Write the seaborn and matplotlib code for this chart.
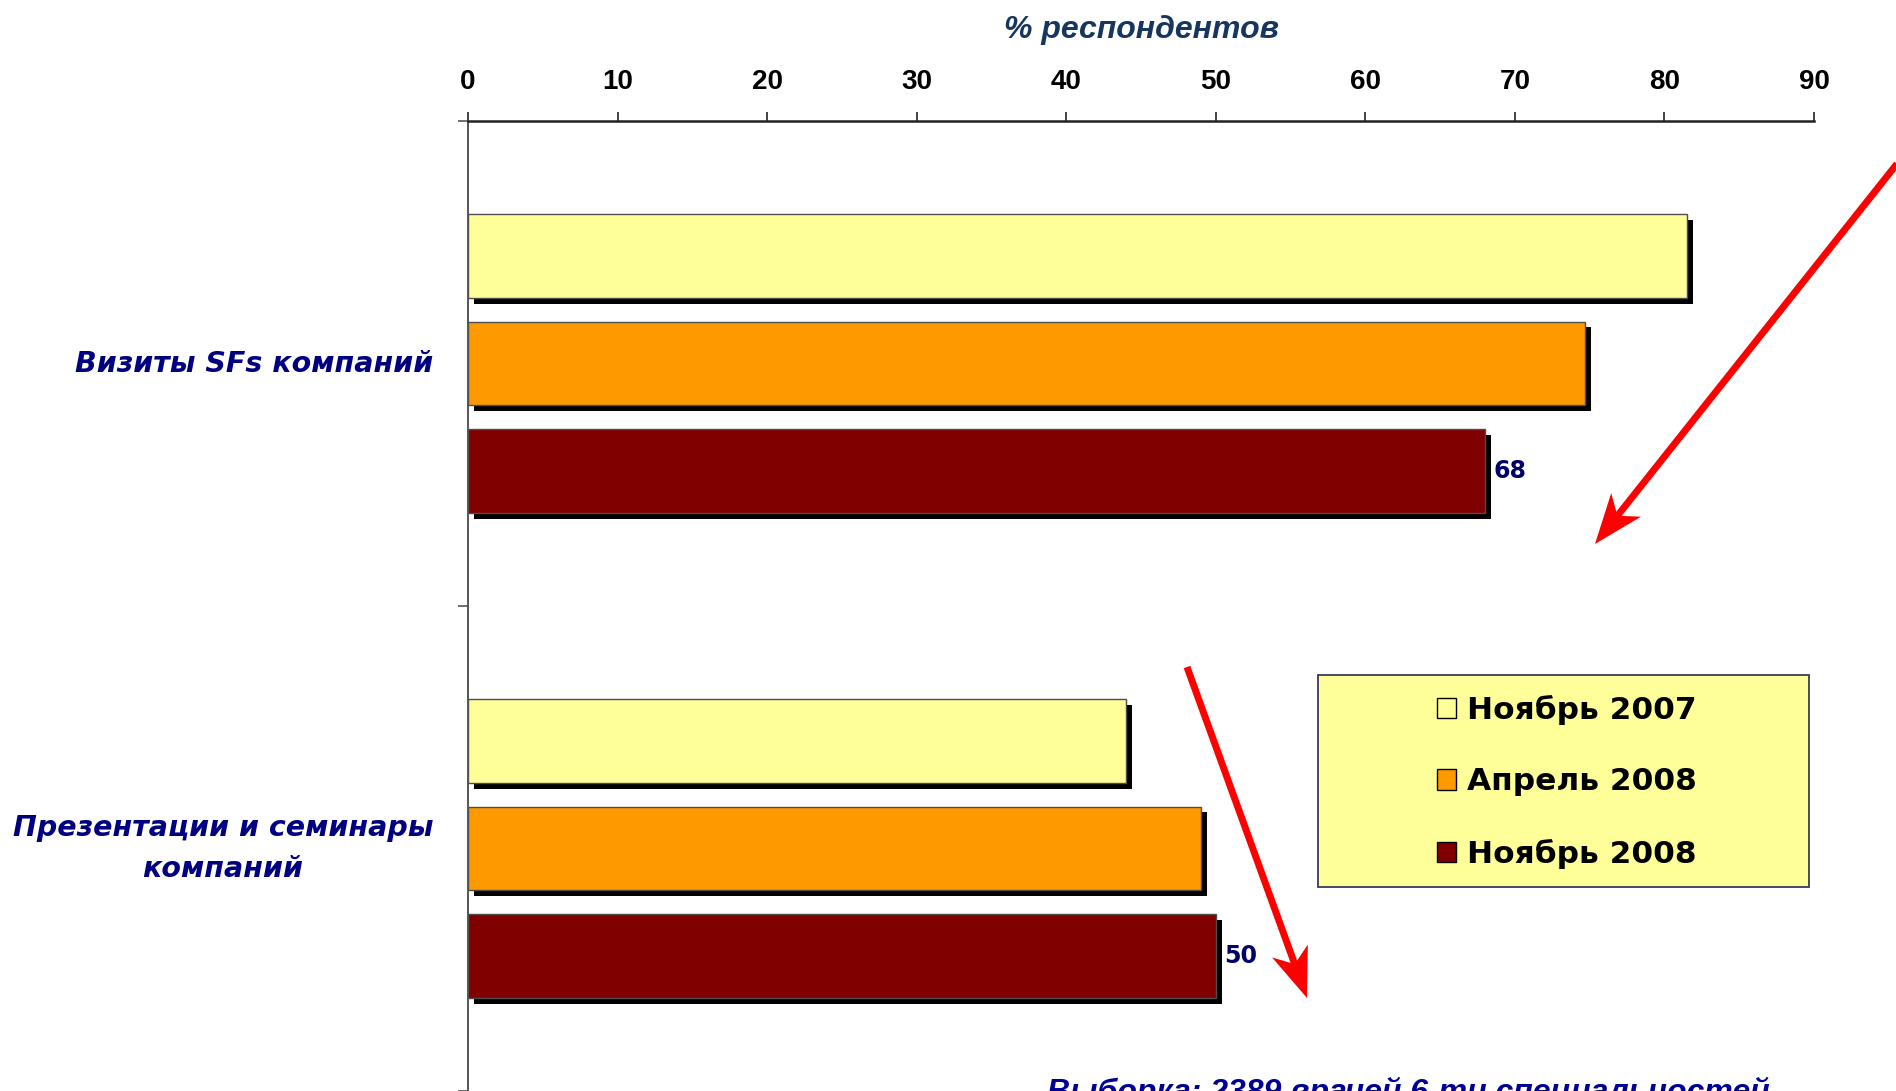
import matplotlib
matplotlib.use("Agg")
import matplotlib.pyplot as plt
import matplotlib.patheffects as pe
from matplotlib.patches import Patch, Rectangle, Polygon
from matplotlib.lines import Line2D
import numpy as np
import pandas as pd
import seaborn as sns

# ---- data -------------------------------------------------------------
categories = ["Визиты SFs компаний", "Презентации и семинары\nкомпаний"]
periods = ["Ноябрь 2007", "Апрель 2008", "Ноябрь 2008"]
nov_2007 = [81.5, 44]
apr_2008 = [74.7, 49]
nov_2008 = [68, 50]
x_ticks = [0, 10, 20, 30, 40, 50, 60, 70, 80, 90]
axis_title = "% респондентов"
sample_note = "Выборка: 2389 врачей 6-ти специальностей"

colors = ["#FFFF99", "#FF9900", "#800000"]

df = pd.DataFrame({
    "category": categories * 3,
    "period": [p for p in periods for _ in categories],
    "value": nov_2007 + apr_2008 + nov_2008,
})

sns.set_theme(style="white")
plt.rcParams["font.family"] = ["Liberation Sans", "DejaVu Sans"]

W, H = 1896, 1091
fig = plt.figure(figsize=(W / 100, H / 100), dpi=100)
ax = fig.add_axes([468 / W, 0.0, (1814 - 468) / W, (H - 121) / H])

sns.barplot(
    data=df, y="category", x="value", hue="period",
    order=categories, hue_order=periods, palette=colors,
    orient="h", width=0.665, gap=0.219, saturation=1,
    edgecolor="#4d4d4d", linewidth=1.0, legend=False, ax=ax,
)

# drop shadow behind every bar
shadow = [pe.SimplePatchShadow(offset=(4.3, -4.3), shadow_rgbFace="black", alpha=1.0),
          pe.Normal()]
for bar in ax.patches:
    bar.set_path_effects(shadow)

# value labels on the latest period only
ax.bar_label(ax.containers[2], fmt="%g", padding=6, color="#000066",
             fontsize=17, fontweight="bold", family="DejaVu Sans")

# ---- axes styling ----------------------------------------------------
ax.set_xlim(0, 90)
ax.set_ylim(1.5, -0.5)
ax.xaxis.tick_top()
ax.xaxis.set_label_position("top")
ax.set_xticks(x_ticks)
ax.set_xticklabels([str(t) for t in x_ticks])
ax.tick_params(axis="x", direction="out", length=6.5, width=1.2, color="#222222",
               pad=12.5, labelsize=20, labelcolor="black")
for lab in ax.get_xticklabels():
    lab.set_fontweight("bold")

ax.set_yticks([0, 1])
ax.set_yticklabels(categories)
ax.set_yticks([-0.5, 0.5, 1.5], minor=True)
ax.tick_params(axis="y", which="major", length=0, pad=25)
ax.tick_params(axis="y", which="minor", direction="out", length=7, width=1.2,
               color="#555555", left=True)
for lab in ax.get_yticklabels():
    lab.set_fontfamily("DejaVu Sans")
    lab.set_fontsize(20.5)
    lab.set_fontweight("bold")
    lab.set_fontstyle("oblique")
    lab.set_color("#000080")
    lab.set_multialignment("center")
    lab.set_verticalalignment("center")
    lab.set_linespacing(1.6)

ax.set_xlabel(axis_title, fontsize=23, fontweight="bold", fontstyle="italic",
              color="#17365D", labelpad=22)
ax.set_ylabel("")

for side in ("right", "bottom"):
    ax.spines[side].set_visible(False)
ax.spines["top"].set_color("#222222")
ax.spines["top"].set_linewidth(1.8)
ax.spines["left"].set_color("#555555")
ax.spines["left"].set_linewidth(1.4)
ax.grid(False)

# ---- legend -----------------------------------------------------------
def fx(px):
    return px / W


def fy(py):
    return 1 - py / H


box = Rectangle((fx(1318), fy(887)), fx(1809) - fx(1318), fy(675) - fy(887),
                transform=fig.transFigure, facecolor="#FFFF99", edgecolor="#3a3a5a",
                linewidth=1.3, zorder=4.5, clip_on=False)
ax.add_artist(box)

handles = [Patch(facecolor=c, edgecolor="black", linewidth=1.0) for c in colors]
leg = ax.legend(handles, periods, loc="center",
                bbox_to_anchor=(fx(1567), fy(782)), bbox_transform=fig.transFigure,
                frameon=False, handlelength=0.62, handleheight=0.62,
                handletextpad=0.35, labelspacing=1.36, labelcolor="black",
                prop={"family": "DejaVu Sans", "weight": "bold", "size": 22.5})
leg.set_zorder(5)

# ---- trend arrows -----------------------------------------------------
def trend_arrow(x0, y0, x1, y1, head_len=50, head_half=19, lw=5.0):
    d = np.array([x1 - x0, y1 - y0], dtype=float)
    u = d / np.hypot(*d)
    n = np.array([-u[1], u[0]])
    tip = np.array([x1, y1], dtype=float)
    back = tip - u * head_len
    notch = tip - u * head_len * 0.72
    shaft_end = tip - u * head_len * 0.6
    fig.add_artist(Line2D([fx(x0), fx(shaft_end[0])], [fy(y0), fy(shaft_end[1])],
                          transform=fig.transFigure, color="#FF0000", lw=lw,
                          solid_capstyle="butt", zorder=6))
    pts = [tip, back + n * head_half, notch, back - n * head_half]
    fig.add_artist(Polygon([(fx(p[0]), fy(p[1])) for p in pts], closed=True,
                           transform=fig.transFigure, facecolor="#FF0000",
                           edgecolor="none", zorder=6))


trend_arrow(1900, 160, 1595, 544)
trend_arrow(1187, 667, 1307, 998)

# ---- sample note (runs off the lower edge) ---------------------------
fig.text(fx(1047), fy(1077), sample_note, ha="left", va="top", fontsize=23,
         fontweight="bold", fontstyle="italic", color="#000099")

fig.savefig("out.png", dpi=100)
